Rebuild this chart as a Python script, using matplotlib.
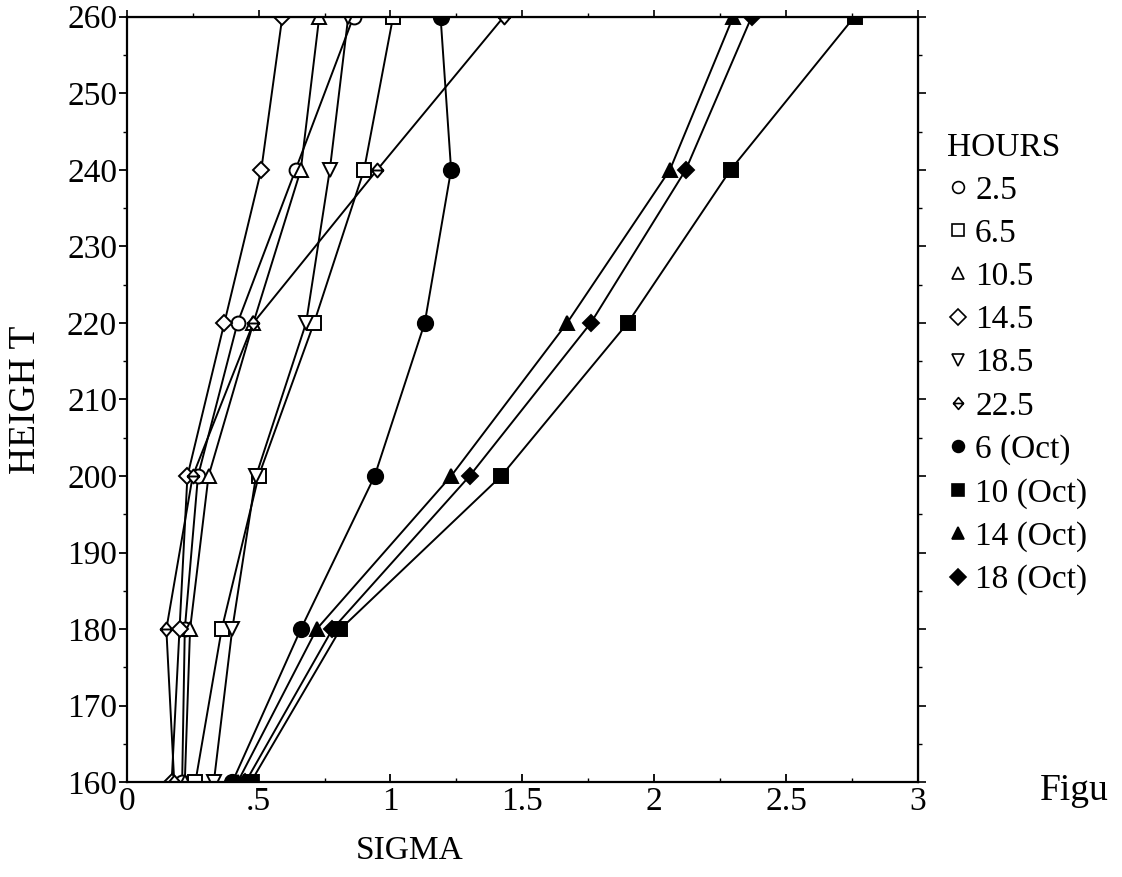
import matplotlib.pyplot as plt
from matplotlib.path import Path
from matplotlib.lines import Line2D
from matplotlib.ticker import MultipleLocator

plt.rcParams['font.family'] = ['Liberation Serif', 'DejaVu Serif']

# heights of the sampling points
height = [160, 180, 200, 220, 240, 260]

# sigma per series
sig_2_5 = [0.21, 0.22, 0.27, 0.42, 0.64, 0.86]
sig_6_5 = [0.26, 0.36, 0.50, 0.71, 0.90, 1.01]
sig_10_5 = [0.22, 0.24, 0.31, 0.48, 0.66, 0.73]
sig_14_5 = [0.17, 0.20, 0.23, 0.37, 0.51, 0.59]
sig_18_5 = [0.33, 0.40, 0.49, 0.68, 0.77, 0.84]
sig_22_5 = [0.18, 0.15, 0.25, 0.48, 0.95, 1.43]
sig_6oct = [0.40, 0.66, 0.94, 1.13, 1.23, 1.19]
sig_10oct = [0.47, 0.81, 1.42, 1.90, 2.29, 2.76]
sig_14oct = [0.42, 0.72, 1.23, 1.67, 2.06, 2.30]
sig_18oct = [0.45, 0.78, 1.30, 1.76, 2.12, 2.37]

labels = ['2.5', '6.5', '10.5', '14.5', '18.5', '22.5',
          '6 (Oct)', '10 (Oct)', '14 (Oct)', '18 (Oct)']
x_ticks = [0, 0.5, 1, 1.5, 2, 2.5, 3]
x_ticklabels = ['0', '.5', '1', '1.5', '2', '2.5', '3']

# diamond with a horizontal bar through it (22.5 marker)
dia_bar = Path([(0, 1), (0.85, 0), (0, -1), (-0.85, 0), (0, 1), (-0.85, 0), (0.85, 0)],
               [Path.MOVETO, Path.LINETO, Path.LINETO, Path.LINETO, Path.CLOSEPOLY,
                Path.MOVETO, Path.LINETO])

series = [sig_2_5, sig_6_5, sig_10_5, sig_14_5, sig_18_5, sig_22_5,
          sig_6oct, sig_10oct, sig_14oct, sig_18oct]
markers = ['o', 's', '^', 'D', 'v', dia_bar, 'o', 's', '^', 'D']
filled = [False] * 6 + [True] * 4
msizes = [10, 10, 10, 8, 10, 10, 11, 10, 10, 8]

fs = 24

fig = plt.figure(figsize=(11.22, 8.77), dpi=100)
ax = fig.add_axes([0.113, 0.108, 0.705, 0.873])

for s, m, f, ms in zip(series, markers, filled, msizes):
    ax.plot(s, height, color='black', lw=1.4, marker=m, ms=ms,
            mfc='black' if f else 'white', mec='black', mew=1.4)

ax.set_xlim(0, 3)
ax.set_ylim(160, 260)
ax.set_xticks(x_ticks)
ax.set_xticklabels(x_ticklabels)
ax.xaxis.set_minor_locator(MultipleLocator(0.25))
ax.yaxis.set_major_locator(MultipleLocator(10))
ax.yaxis.set_minor_locator(MultipleLocator(5))
ax.tick_params(axis='x', which='both', direction='in', labelsize=fs, pad=3)
ax.tick_params(axis='x', which='major', length=6, width=1.3)
ax.tick_params(axis='x', which='minor', length=3, width=1)
ax.tick_params(axis='y', which='both', direction='out', labelsize=fs, pad=1)
ax.tick_params(axis='y', which='major', length=6, width=1.3)
ax.tick_params(axis='y', which='minor', length=3, width=1)
for sp in ax.spines.values():
    sp.set_linewidth(1.6)

# outward ticks on top and right
top = ax.secondary_xaxis('top')
top.set_xticks(x_ticks)
top.xaxis.set_minor_locator(MultipleLocator(0.25))
top.tick_params(which='both', direction='out', labeltop=False)
top.tick_params(which='major', length=5, width=1.2)
top.tick_params(which='minor', length=3, width=1)
right = ax.secondary_yaxis('right')
right.yaxis.set_major_locator(MultipleLocator(10))
right.yaxis.set_minor_locator(MultipleLocator(5))
right.tick_params(which='both', direction='out', labelright=False)
right.tick_params(which='major', length=6, width=1.2)
right.tick_params(which='minor', length=3, width=1)

ax.text(0.358, -0.089, 'SIGMA', transform=ax.transAxes, ha='center', va='center', fontsize=fs)
ax.text(-0.128, 0.5, 'HEIGH T', transform=ax.transAxes, ha='center', va='center',
        rotation=90, fontsize=27)

handles = []
for m, f in zip(markers, filled):
    handles.append(Line2D([], [], linestyle='none', marker=m, ms=8.5, color='black',
                          mfc='black' if f else 'white', mec='black', mew=1.2))
leg = fig.legend(handles, labels, title='HOURS', loc='upper left',
                 bbox_to_anchor=(0.823, 0.876), frameon=False, fontsize=fs,
                 title_fontsize=fs, handlelength=0.7, handletextpad=0.15,
                 labelspacing=0.38, alignment='left', borderpad=0.2)

# caption fragment cut by the page edge in the scan
fig.text(0.927, 0.098, 'Figu', fontsize=27, ha='left', va='center')

fig.savefig('out.png', dpi=100)
